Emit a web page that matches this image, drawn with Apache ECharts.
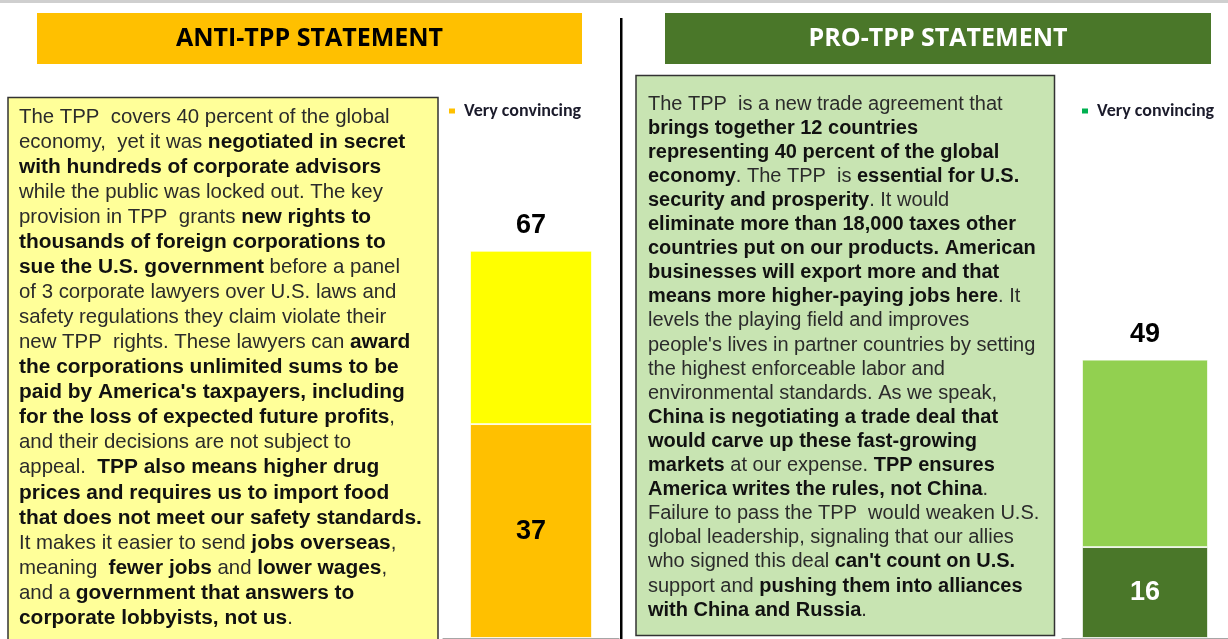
<!DOCTYPE html>
<html>
<head>
<meta charset="utf-8">
<script src="https://cdn.jsdelivr.net/npm/echarts@6/dist/echarts.min.js"></script>
<style>
html,body{margin:0;padding:0;background:#fff;}
#chart{width:1228px;height:639px;}
</style>
</head>
<body>
<div id="chart"></div>
<script>
// ---- data ----
const antiCategories = ['Anti-TPP statement'];
const antiVeryConvincing = [37];
const antiSomewhatConvincing = [30];
const proCategories = ['Pro-TPP statement'];
const proVeryConvincing = [16];
const proSomewhatConvincing = [33];
const legendLabel = 'Very convincing';
const antiTitle = 'ANTI-TPP STATEMENT';
const proTitle = 'PRO-TPP STATEMENT';

// statement texts: n = normal, b = bold
const antiLines = [
  [['n','The TPP  covers 40 percent of the global']],
  [['n','economy,  yet it was '],['b','negotiated in secret']],
  [['b','with hundreds of corporate advisors']],
  [['n','while the public was locked out. The key']],
  [['n','provision in TPP  grants '],['b','new rights to']],
  [['b','thousands of foreign corporations to']],
  [['b','sue the U.S. government'],['n',' before a panel']],
  [['n','of 3 corporate lawyers over U.S. laws and']],
  [['n','safety regulations they claim violate their']],
  [['n','new TPP  rights. These lawyers can '],['b','award']],
  [['b','the corporations unlimited sums to be']],
  [['b',"paid by America's taxpayers, including"]],
  [['b','for the loss of expected future profits'],['n',',']],
  [['n','and their decisions are not subject to']],
  [['n','appeal.  '],['b','TPP also means higher drug']],
  [['b','prices and requires us to import food']],
  [['b','that does not meet our safety standards.']],
  [['n','It makes it easier to send '],['b','jobs overseas'],['n',',']],
  [['n','meaning  '],['b','fewer jobs'],['n',' and '],['b','lower wages'],['n',',']],
  [['n','and a '],['b','government that answers to']],
  [['b','corporate lobbyists, not us'],['n','.']]
];
const proLines = [
  [['n','The TPP  is a new trade agreement that']],
  [['b','brings together 12 countries']],
  [['b','representing 40 percent of the global']],
  [['b','economy'],['n','. The TPP  is '],['b','essential for U.S.']],
  [['b','security and prosperity'],['n','. It would']],
  [['b','eliminate more than 18,000 taxes other']],
  [['b','countries put on our products. American']],
  [['b','businesses will export more and that']],
  [['b','means more higher-paying jobs here'],['n','. It']],
  [['n','levels the playing field and improves']],
  [['n',"people's lives in partner countries by setting"]],
  [['n','the highest enforceable labor and']],
  [['n','environmental standards. As we speak,']],
  [['b','China is negotiating a trade deal that']],
  [['b','would carve up these fast-growing']],
  [['b','markets'],['n',' at our expense. '],['b','TPP ensures']],
  [['b','America writes the rules, not China'],['n','.']],
  [['n','Failure to pass the TPP  would weaken U.S.']],
  [['n','global leadership, signaling that our allies']],
  [['n','who signed this deal '],['b',"can't count on U.S."]],
  [['n','support and '],['b','pushing them into alliances']],
  [['b','with China and Russia'],['n','.']]
];

function richText(lines){
  return lines.map(l => l.map(p => '{' + p[0] + '|' + p[1] + '}').join('')).join('\n');
}
function richStyles(lh, ns, bs){
  return {
    n:{fontFamily:'"Liberation Sans", Arial, sans-serif', fontSize:ns, fontWeight:'normal', fill:'#2b2b2b', lineHeight:lh},
    b:{fontFamily:'"Liberation Sans", Arial, sans-serif', fontSize:bs, fontWeight:'bold', fill:'#111', lineHeight:lh}
  };
}

const numFont = '"Liberation Sans", Arial, sans-serif';
const calibri = 'Carlito, Lato, "Open Sans", sans-serif';
const titleFont = '"Open Sans", Lato, sans-serif';

const chart = echarts.init(document.getElementById('chart'), null, {renderer:'canvas'});

const legendText = {fontFamily:calibri, fontSize:18, fontWeight:'bold', color:'#1b1b2b', padding:[0,0,0,3]};
const option = {
  animation:false,
  backgroundColor:'#fff',
  legend:[
    {left:447, top:102, padding:0, icon:'rect', itemWidth:8, itemHeight:7, selectedMode:false,
     textStyle:legendText,
     data:[{name:legendLabel, itemStyle:{color:'#FFC000'}}]},
    {left:1080, top:102, padding:0, icon:'rect', itemWidth:8, itemHeight:7, selectedMode:false,
     textStyle:legendText,
     data:[{name:legendLabel, itemStyle:{color:'#00B050'}}]}
  ],
  grid:[
    {left:443, width:176, top:60, bottom:1},
    {left:1062, width:180, top:70, bottom:1}
  ],
  xAxis:[
    {type:'category', gridIndex:0, data:antiCategories, axisLabel:{show:false}, axisTick:{show:false},
     axisLine:{lineStyle:{color:'#a6a6a6', width:1}}},
    {type:'category', gridIndex:1, data:proCategories, axisLabel:{show:false}, axisTick:{show:false},
     axisLine:{lineStyle:{color:'#a6a6a6', width:1}}}
  ],
  yAxis:[
    {type:'value', gridIndex:0, min:0, max:100, show:false},
    {type:'value', gridIndex:1, min:0, max:100, show:false}
  ],
  series:[
    {name:legendLabel, type:'bar', stack:'anti', xAxisIndex:0, yAxisIndex:0, barWidth:122,
     data:antiVeryConvincing, itemStyle:{color:'#FFC000', borderColor:'#fff', borderWidth:0.8},
     label:{show:true, position:'inside', fontFamily:numFont, fontSize:27, fontWeight:'bold', color:'#000'}},
    {name:'Somewhat convincing (anti)', type:'bar', stack:'anti', xAxisIndex:0, yAxisIndex:0, barWidth:122,
     data:antiSomewhatConvincing, itemStyle:{color:'#FFFF00', borderColor:'#fff', borderWidth:0.8},
     label:{show:true, position:'top', distance:12, fontFamily:numFont, fontSize:27, fontWeight:'bold', color:'#000',
       formatter:p => String(antiVeryConvincing[p.dataIndex] + antiSomewhatConvincing[p.dataIndex])}},
    {name:legendLabel, type:'bar', stack:'pro', xAxisIndex:1, yAxisIndex:1, barWidth:126,
     data:proVeryConvincing, itemStyle:{color:'#4A7729', borderColor:'#fff', borderWidth:0.8},
     label:{show:true, position:'inside', fontFamily:numFont, fontSize:27, fontWeight:'bold', color:'#fff'}},
    {name:'Somewhat convincing (pro)', type:'bar', stack:'pro', xAxisIndex:1, yAxisIndex:1, barWidth:126,
     data:proSomewhatConvincing, itemStyle:{color:'#92D050', borderColor:'#fff', borderWidth:0.8},
     label:{show:true, position:'top', distance:12, fontFamily:numFont, fontSize:27, fontWeight:'bold', color:'#000',
       formatter:p => String(proVeryConvincing[p.dataIndex] + proSomewhatConvincing[p.dataIndex])}}
  ],
  graphic:[
    {type:'rect', left:0, top:0, z:1, shape:{width:1228, height:3}, style:{fill:'#cfcfcf'}},
    {type:'rect', left:37, top:13, z:1, shape:{width:545, height:51}, style:{fill:'#FFC000'}},
    {type:'text', x:309.5, y:38.5, z:2, style:{text:antiTitle, fill:'#000', font:'bold 25px ' + titleFont, align:'center', verticalAlign:'middle'}},
    {type:'rect', left:665, top:13, z:1, shape:{width:546, height:51}, style:{fill:'#4A7729'}},
    {type:'text', x:938, y:38.5, z:2, style:{text:proTitle, fill:'#fff', font:'bold 25px ' + titleFont, align:'center', verticalAlign:'middle'}},
    {type:'rect', z:1, shape:{x:620, y:18, width:2.5, height:625}, style:{fill:'#000'}},
    {type:'rect', z:1, shape:{x:8, y:97.5, width:430, height:560}, style:{fill:'#FFFF99', stroke:'#333', lineWidth:1.5}},
    {type:'text', z:2, x:19, y:104.5, style:{text:richText(antiLines), rich:richStyles(25.05, 20.4, 20.9), verticalAlign:'top', align:'left'}},
    {type:'rect', z:1, shape:{x:636, y:75.5, width:418.5, height:560}, style:{fill:'#C8E4B2', stroke:'#333', lineWidth:1.5}},
    {type:'text', z:2, x:648, y:92, style:{text:richText(proLines), rich:richStyles(24.1, 20, 20), verticalAlign:'top', align:'left'}}
  ]
};
chart.setOption(option);
</script>
</body>
</html>
